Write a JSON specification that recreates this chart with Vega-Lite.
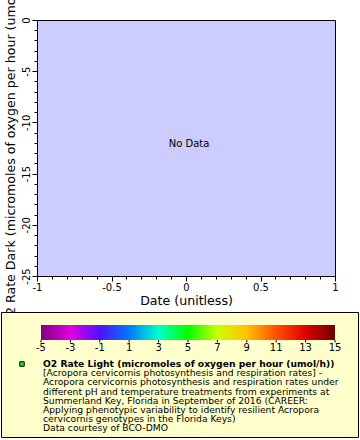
{
  "$schema": "https://vega.github.io/schema/vega-lite/v6.json",
  "width": 298,
  "height": 256,
  "autosize": {"type": "none"},
  "padding": {"left": 37, "top": 20, "right": 25, "bottom": 164},
  "background": "white",
  "config": {
    "font": "DejaVu Sans",
    "view": {"fill": "#ccccff", "stroke": "black", "strokeWidth": 1}
  },
  "datasets": {
    "nodata": [{"x": 0.02, "y": -12.1, "label": "No Data"}],
    "cbar": [
      {"v": -5, "label": "-5"}, {"v": -3, "label": "-3"}, {"v": -1, "label": "-1"},
      {"v": 1, "label": "1"}, {"v": 3, "label": "3"}, {"v": 5, "label": "5"},
      {"v": 7, "label": "7"}, {"v": 9, "label": "9"}, {"v": 11, "label": "11"},
      {"v": 13, "label": "13"}, {"v": 15, "label": "15"}
    ],
    "head": [{"line": 0, "text": "O2 Rate Light (micromoles of oxygen per hour (umol/h))"}],
    "lines": [
      {"line": 1, "text": "[Acropora cervicornis photosynthesis and respiration rates] -"},
      {"line": 2, "text": "Acropora cervicornis photosynthesis and respiration rates under"},
      {"line": 3, "text": "different pH and temperature treatments from experiments at"},
      {"line": 4, "text": "Summerland Key, Florida in September of 2016 (CAREER:"},
      {"line": 5, "text": "Applying phenotypic variability to identify resilient Acropora"},
      {"line": 6, "text": "cervicornis genotypes in the Florida Keys)"},
      {"line": 7, "text": "Data courtesy of BCO-DMO"}
    ]
  },
  "layer": [
    {
      "layer": [
        {
          "data": {"name": "nodata"},
          "mark": {"type": "text", "fontSize": 10, "color": "black", "align": "center", "baseline": "middle"},
          "encoding": {
            "x": {
              "field": "x", "type": "quantitative",
              "scale": {"domain": [-1, 1], "nice": false, "zero": false},
              "title": "Date (unitless)",
              "axis": {
                "values": [-1, -0.9, -0.8, -0.7, -0.6, -0.5, -0.4, -0.3, -0.2, -0.1, 0, 0.1, 0.2, 0.3, 0.4, 0.5, 0.6, 0.7, 0.8, 0.9, 1],
                "labelExpr": "abs(datum.value*2 - round(datum.value*2)) < 0.001 ? datum.value + '' : ''",
                "tickSize": {"condition": {"test": "abs(datum.value*2 - round(datum.value*2)) < 0.001", "value": 5}, "value": 3},
                "grid": false,
                "domainColor": "black", "tickColor": "black", "labelColor": "black", "titleColor": "black",
                "labelFontSize": 10, "titleFontSize": 12.6, "titleFontWeight": "normal",
                "labelFlush": false, "labelOverlap": false, "labelPadding": 1, "titlePadding": 2
              }
            },
            "y": {
              "field": "y", "type": "quantitative",
              "scale": {"domain": [-25, 0], "nice": false, "zero": false},
              "title": "O2 Rate Dark (micromoles of oxygen per hour (umol/h))",
              "axis": {
                "values": [0, -1, -2, -3, -4, -5, -6, -7, -8, -9, -10, -11, -12, -13, -14, -15, -16, -17, -18, -19, -20, -21, -22, -23, -24, -25],
                "labelExpr": "datum.value % 5 == 0 ? datum.value + '' : ''",
                "tickSize": {"condition": {"test": "datum.value % 5 == 0", "value": 5}, "value": 3},
                "grid": false,
                "domainColor": "black", "tickColor": "black", "labelColor": "black", "titleColor": "black",
                "labelFontSize": 10, "titleFontSize": 12.6, "titleFontWeight": "normal",
                "labelAngle": 270, "labelAlign": "center", "labelBaseline": "bottom",
                "labelFlush": false, "labelOverlap": false, "labelPadding": 1, "titlePadding": 4
              }
            },
            "text": {"field": "label"}
          }
        }
      ]
    },
    {
      "layer": [
        {
          "data": {"values": [{}]},
          "mark": {"type": "rect", "fill": "#ffffcc", "stroke": "black", "strokeWidth": 1},
          "encoding": {
            "x": {"datum": -7.687, "type": "quantitative", "scale": {"domain": [-5, 15], "range": [4, 298], "nice": false, "zero": false}, "axis": null},
            "x2": {"datum": 16.599},
            "y": {"datum": -5.598, "type": "quantitative", "scale": {"domain": [0, 7], "range": [344, 408.4], "nice": false, "zero": false}, "axis": null},
            "y2": {"datum": 7.989}
          }
        },
        {
          "data": {"values": [{}]},
          "mark": {
            "type": "rect",
            "stroke": null,
            "fill": {
              "gradient": "linear", "x1": 0, "x2": 1, "y1": 0, "y2": 0,
              "stops": [
                {"offset": 0, "color": "#800080"},
                {"offset": 0.1, "color": "#e000e0"},
                {"offset": 0.2, "color": "#5010ff"},
                {"offset": 0.3, "color": "#0078ff"},
                {"offset": 0.4, "color": "#00ffcc"},
                {"offset": 0.5, "color": "#00ff00"},
                {"offset": 0.6, "color": "#ccff00"},
                {"offset": 0.7, "color": "#ffc000"},
                {"offset": 0.8, "color": "#ff5000"},
                {"offset": 0.9, "color": "#e00000"},
                {"offset": 1, "color": "#700000"}
              ]
            }
          },
          "encoding": {
            "x": {"datum": -5, "type": "quantitative", "axis": null},
            "x2": {"datum": 15},
            "y": {"datum": -4.239, "type": "quantitative", "axis": null},
            "y2": {"datum": -2.609}
          }
        },
        {
          "data": {"name": "cbar"},
          "mark": {"type": "rule", "color": "black", "strokeWidth": 1},
          "encoding": {
            "x": {"field": "v", "type": "quantitative", "axis": null},
            "y": {"datum": -2.609, "type": "quantitative", "axis": null},
            "y2": {"datum": -2.337}
          }
        },
        {
          "data": {"name": "cbar"},
          "mark": {"type": "text", "fontSize": 10, "color": "black", "align": "center", "baseline": "middle"},
          "encoding": {
            "x": {"field": "v", "type": "quantitative", "axis": null},
            "y": {"datum": -1.739, "type": "quantitative", "axis": null},
            "text": {"field": "label"}
          }
        },
        {
          "data": {"name": "head"},
          "mark": {"type": "point", "shape": "square", "filled": true, "fill": "#00ff00", "stroke": "black", "strokeWidth": 1, "size": 20, "opacity": 1},
          "encoding": {
            "x": {"datum": -6.293, "type": "quantitative", "axis": null},
            "y": {"field": "line", "type": "quantitative", "axis": null}
          }
        },
        {
          "data": {"name": "head"},
          "mark": {"type": "text", "fontSize": 9.2, "fontWeight": "bold", "color": "black", "align": "left", "baseline": "middle"},
          "encoding": {
            "x": {"datum": -4.864, "type": "quantitative", "axis": null},
            "y": {"field": "line", "type": "quantitative", "axis": null},
            "text": {"field": "text"}
          }
        },
        {
          "data": {"name": "lines"},
          "mark": {"type": "text", "fontSize": 9.2, "color": "black", "align": "left", "baseline": "middle"},
          "encoding": {
            "x": {"datum": -4.864, "type": "quantitative", "axis": null},
            "y": {"field": "line", "type": "quantitative", "axis": null},
            "text": {"field": "text"}
          }
        }
      ]
    }
  ],
  "resolve": {"scale": {"x": "independent", "y": "independent"}}
}
